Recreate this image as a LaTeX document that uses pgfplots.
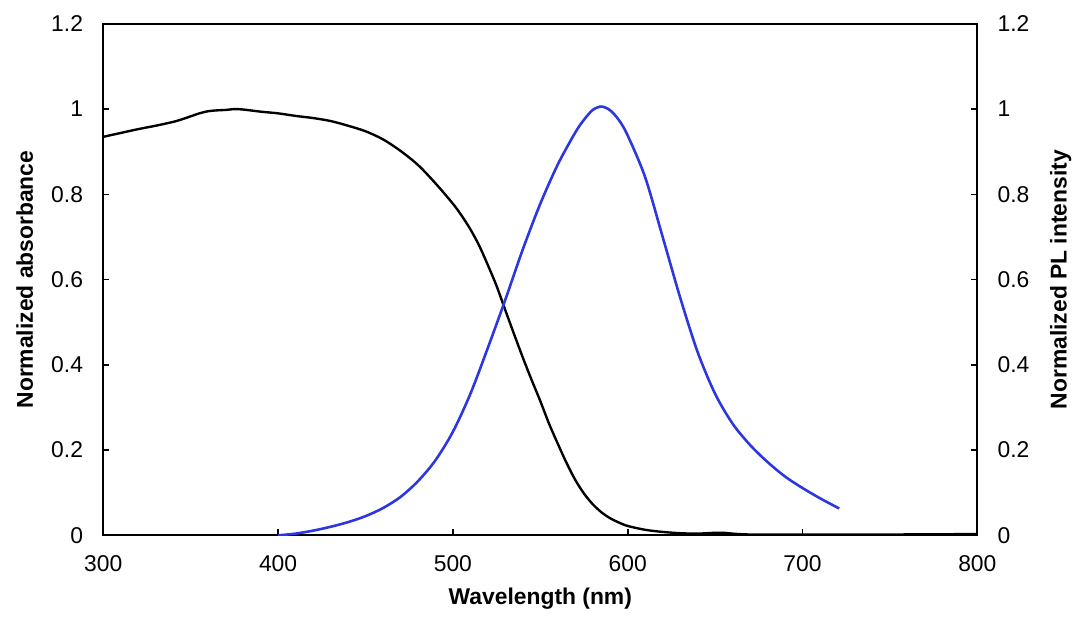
\documentclass[border=0pt]{standalone}
\usepackage{fontspec}
\setmainfont{Liberation Sans}
\usepackage{pgfplots}
\pgfplotsset{compat=1.18}
\usepackage{pgfplotstable}
\usetikzlibrary{calc}
\definecolor{plblue}{RGB}{45,55,225}

\pgfplotstableread{
x y
300 0.935
310 0.944
320 0.953
330 0.961
340 0.970
345 0.976
350 0.983
355 0.990
360 0.995
365 0.997
370 0.998
375 1.000
380 0.999
390 0.994
400 0.990
410 0.984
420 0.979
430 0.972
440 0.961
450 0.948
460 0.929
470 0.902
480 0.869
490 0.826
500 0.778
505 0.750
510 0.718
515 0.680
520 0.634
525 0.585
530 0.528
535 0.472
540 0.417
545 0.365
550 0.315
555 0.262
560 0.215
565 0.170
570 0.130
575 0.098
580 0.073
585 0.054
590 0.040
595 0.030
600 0.022
610 0.013
620 0.008
630 0.005
640 0.004
650 0.006
655 0.006
660 0.004
670 0.002
700 0.002
750 0.002
800 0.003
}\abs

\pgfplotstableread{
x y
400 0.000
410 0.004
420 0.011
430 0.020
440 0.031
450 0.045
460 0.064
470 0.090
480 0.127
490 0.176
500 0.243
510 0.332
520 0.440
530 0.553
540 0.671
550 0.778
560 0.870
570 0.945
575 0.975
580 0.998
585 1.006
590 0.997
595 0.974
600 0.938
610 0.840
620 0.700
630 0.558
640 0.430
650 0.332
660 0.262
670 0.212
680 0.172
690 0.138
700 0.111
710 0.087
721 0.063
}\pl

\begin{document}
\begin{tikzpicture}
\pgfplotsset{
  common/.style={
    width=440pt, height=257.5pt, scale only axis,
    xmin=300, xmax=800, ymin=0, ymax=1.2,
    ytick={0,0.2,0.4,0.6,0.8,1,1.2},
    yticklabels={0,0.2,0.4,0.6,0.8,1,1.2},
    tick align=inside,
    major tick length=3pt,
    axis line style={line width=1pt},
    every tick/.style={black, line width=0.8pt},
    tick label style={font=\fontsize{11.5}{13}\selectfont},
    /pgf/number format/assume math mode=true,
  }
}
\begin{axis}[common,
  xtick={300,400,500,600,700,800},
  xticklabels={300,400,500,600,700,800},
  xtick pos=bottom, ytick pos=left,
  xticklabel style={yshift=-6.5pt},
  yticklabel style={xshift=-6.7pt},
  xlabel={Wavelength (nm)},
  ylabel={Normalized absorbance},
  every axis x label/.style={at={(axis description cs:0.5,0)}, yshift=-32pt, anchor=center, font=\fontsize{11.5}{13}\selectfont\bfseries},
  every axis y label/.style={at={(axis description cs:0,0.5)}, xshift=-39.5pt, rotate=90, anchor=center, font=\fontsize{11.5}{13}\selectfont\bfseries},
]
\addplot[black, line width=1.2pt, smooth] table[x=x,y=y] {\abs};
\end{axis}
\begin{axis}[common,
  axis x line=none,
  axis y line*=right,
  ytick pos=right,
  yticklabel pos=right,
  yticklabel style={xshift=6.7pt},
  ylabel={Normalized PL intensity},
  every axis y label/.style={at={(axis description cs:1,0.5)}, xshift=42pt, rotate=90, anchor=center, font=\fontsize{11.5}{13}\selectfont\bfseries},
]
\addplot[plblue, line width=1.3pt, smooth] table[x=x,y=y] {\pl};
\end{axis}
\useasboundingbox ($(current axis.south west)+(-52pt,-40pt)$) rectangle ($(current axis.north east)+(47pt,12pt)$);
\end{tikzpicture}
\end{document}
